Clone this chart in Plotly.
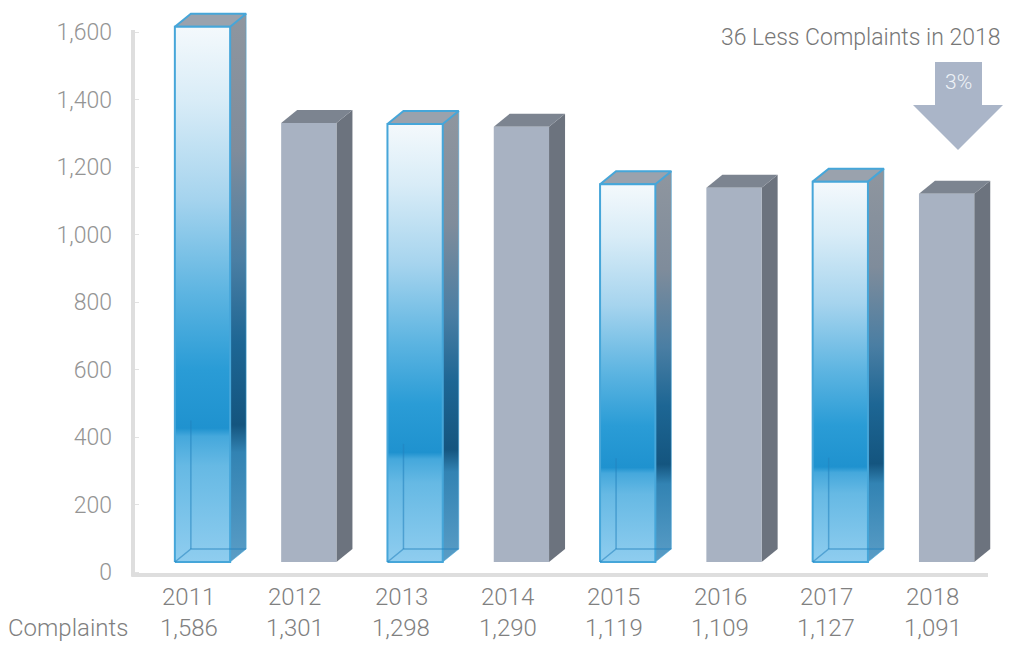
import plotly.graph_objects as go

# ---- data -------------------------------------------------------------
years = ["2011", "2012", "2013", "2014", "2015", "2016", "2017", "2018"]
complaints = [1586, 1301, 1298, 1290, 1119, 1109, 1127, 1091]
bar_styles = ["glass", "solid", "glass", "solid", "glass", "solid", "glass", "solid"]
y_ticks = [0, 200, 400, 600, 800, 1000, 1200, 1400, 1600]
row_label = "Complaints"
headline = "36 Less Complaints in 2018"
change_label = "3%"

# ---- geometry (axis units) --------------------------------------------
W, H = 1011, 647
LEFT = 133                      # plot area starts here (px)
STEP_PX = 106.3                 # pixels per category
Y_PX = 0.3375                   # pixels per complaint
ZERO_PX = 572                   # vertical pixel position of value 0

x_min = -(202.5 - LEFT) / STEP_PX
x_max = x_min + (W - LEFT) / STEP_PX
y_max = ZERO_PX / Y_PX
y_min = -(H - ZERO_PX) / Y_PX

HALF_W = 0.26                   # half width of the front face
DX = 16 / STEP_PX               # box depth, horizontal
DY = 13 / Y_PX                  # box depth, vertical
LIFT = 10 / Y_PX                # front face sits slightly above the floor line
LABEL_SHIFT = -0.13             # year labels sit a little left of the bar

FONT = "Roboto"
WEIGHT = 300

glass_front = [[0.0, "#8fcdef"], [0.18, "#66b9e4"], [0.235, "#45a8dc"],
               [0.25, "#1f92cf"], [0.36, "#2a9cd6"], [0.5, "#5cb4e1"],
               [0.68, "#a6d4ee"], [0.86, "#d8ecf7"], [1.0, "#f4f9fc"]]
glass_side = [[0.0, "#5a9dc6"], [0.2, "#3283b3"], [0.25, "#14557f"],
              [0.4, "#1d6694"], [0.55, "#4a7ea3"], [0.75, "#7f8c9b"],
              [1.0, "#8f969f"]]
GLASS_EDGE = "#46a6d9"
GLASS_TOP = "#9aa2ad"
SOLID_FRONT = "#a8b2c2"
SOLID_SIDE = "#6c737e"
SOLID_TOP = "#7c8490"

fig = go.Figure()


def face(xs, ys, color=None, gradient=None, line_color=None, line_width=0):
    kw = dict(x=xs, y=ys, mode="lines", fill="toself", hoverinfo="skip",
              line=dict(color=line_color or "rgba(0,0,0,0)", width=line_width))
    if gradient is not None:
        kw["fillgradient"] = dict(type="vertical", colorscale=gradient)
        kw["fillcolor"] = gradient[-1][1]
    else:
        kw["fillcolor"] = color
    fig.add_trace(go.Scatter(**kw))


for i, (value, style) in enumerate(zip(complaints, bar_styles)):
    L, R = i - HALF_W, i + HALF_W
    b, t = LIFT, value + LIFT
    front_x, front_y = [L, R, R, L, L], [b, b, t, t, b]
    side_x, side_y = [R, R + DX, R + DX, R, R], [b, b + DY, t + DY, t, b]
    top_x, top_y = [L, R, R + DX, L + DX, L], [t, t, t + DY, t + DY, t]

    if style == "glass":
        face(side_x, side_y, gradient=glass_side, line_color="rgba(70,166,217,0.55)", line_width=1)
        face(top_x, top_y, color=GLASS_TOP, line_color=GLASS_EDGE, line_width=2)
        face(front_x, front_y, gradient=glass_front, line_color=GLASS_EDGE, line_width=2)
        # back edges seen through the glass
        inner_h = 0.24 * value
        fig.add_trace(go.Scatter(
            x=[L, L + DX, R + DX, None, L + DX, L + DX],
            y=[b, b + DY, b + DY, None, b + DY, b + DY + inner_h],
            mode="lines", hoverinfo="skip",
            line=dict(color="rgba(35,130,190,0.55)", width=1.5)))
    else:
        face(side_x, side_y, color=SOLID_SIDE)
        face(top_x, top_y, color=SOLID_TOP)
        face(front_x, front_y, color=SOLID_FRONT)

# ---- axis lines -------------------------------------------------------
AXIS_COLOR = "#dedede"
fig.add_shape(type="line", xref="paper", yref="y", x0=0, x1=0,
              y0=-12, y1=1606, line=dict(color=AXIS_COLOR, width=4))
fig.add_shape(type="line", xref="paper", yref="y", x0=-0.002, x1=(988 - LEFT) / (W - LEFT),
              y0=-9, y1=-9, line=dict(color=AXIS_COLOR, width=4))

# ---- category labels --------------------------------------------------
LABEL_COLOR = "#808080"
for i, (yr, value) in enumerate(zip(years, complaints)):
    fig.add_annotation(x=i + LABEL_SHIFT, y=1 - 597 / H, xref="x", yref="paper",
                       text=yr, showarrow=False, xanchor="center", yanchor="middle",
                       font=dict(family=FONT, size=24, color=LABEL_COLOR, weight=WEIGHT))
    fig.add_annotation(x=i + LABEL_SHIFT, y=1 - 628 / H, xref="x", yref="paper",
                       text=f"{value:,}", showarrow=False, xanchor="center", yanchor="middle",
                       font=dict(family=FONT, size=24, color=LABEL_COLOR, weight=WEIGHT))

fig.add_annotation(x=(130 - LEFT) / (W - LEFT), y=1 - 628 / H, xref="paper", yref="paper",
                   text=row_label, showarrow=False, xanchor="right", yanchor="middle",
                   font=dict(family=FONT, size=24, color=LABEL_COLOR, weight=WEIGHT))

# ---- headline and down arrow -----------------------------------------
fig.add_annotation(x=(860.5 - LEFT) / (W - LEFT), y=1 - 37 / H, xref="paper", yref="paper",
                   text=headline, showarrow=False, xanchor="center", yanchor="middle",
                   font=dict(family=FONT, size=23, color="#777777", weight=WEIGHT))

ARROW_COLOR = "#aab5c8"
px_x = lambda px: (px - 202.5) / STEP_PX
px_y = lambda py: (ZERO_PX - py) / Y_PX
arrow_pts = [(935, 62), (982, 62), (982, 105), (1003, 105), (958, 150),
             (913, 105), (935, 105)]
path = "M " + " L ".join(f"{px_x(a):.4f},{px_y(c):.2f}" for a, c in arrow_pts) + " Z"
fig.add_shape(type="path", xref="x", yref="y", path=path,
              fillcolor=ARROW_COLOR, line=dict(width=0))
fig.add_annotation(x=(958 - LEFT) / (W - LEFT), y=1 - 82 / H, xref="paper", yref="paper",
                   text=change_label, showarrow=False, xanchor="center", yanchor="middle",
                   font=dict(family=FONT, size=21, color="#eef2f7", weight=WEIGHT))

# ---- layout -----------------------------------------------------------
fig.update_layout(
    width=W, height=H,
    margin=dict(l=LEFT, r=0, t=0, b=0),
    plot_bgcolor="white", paper_bgcolor="white",
    showlegend=False,
    xaxis=dict(range=[x_min, x_max], visible=False),
    yaxis=dict(range=[y_min, y_max], tickvals=y_ticks, tickformat=",",
               ticks="inside", ticklen=6, tickwidth=1, tickcolor="#e2e2e2",
               showgrid=False, zeroline=False, showline=False,
               ticklabelstandoff=20,
               tickfont=dict(family=FONT, size=23, color="#949494", weight=WEIGHT)),
)

fig.write_html("out.html")
